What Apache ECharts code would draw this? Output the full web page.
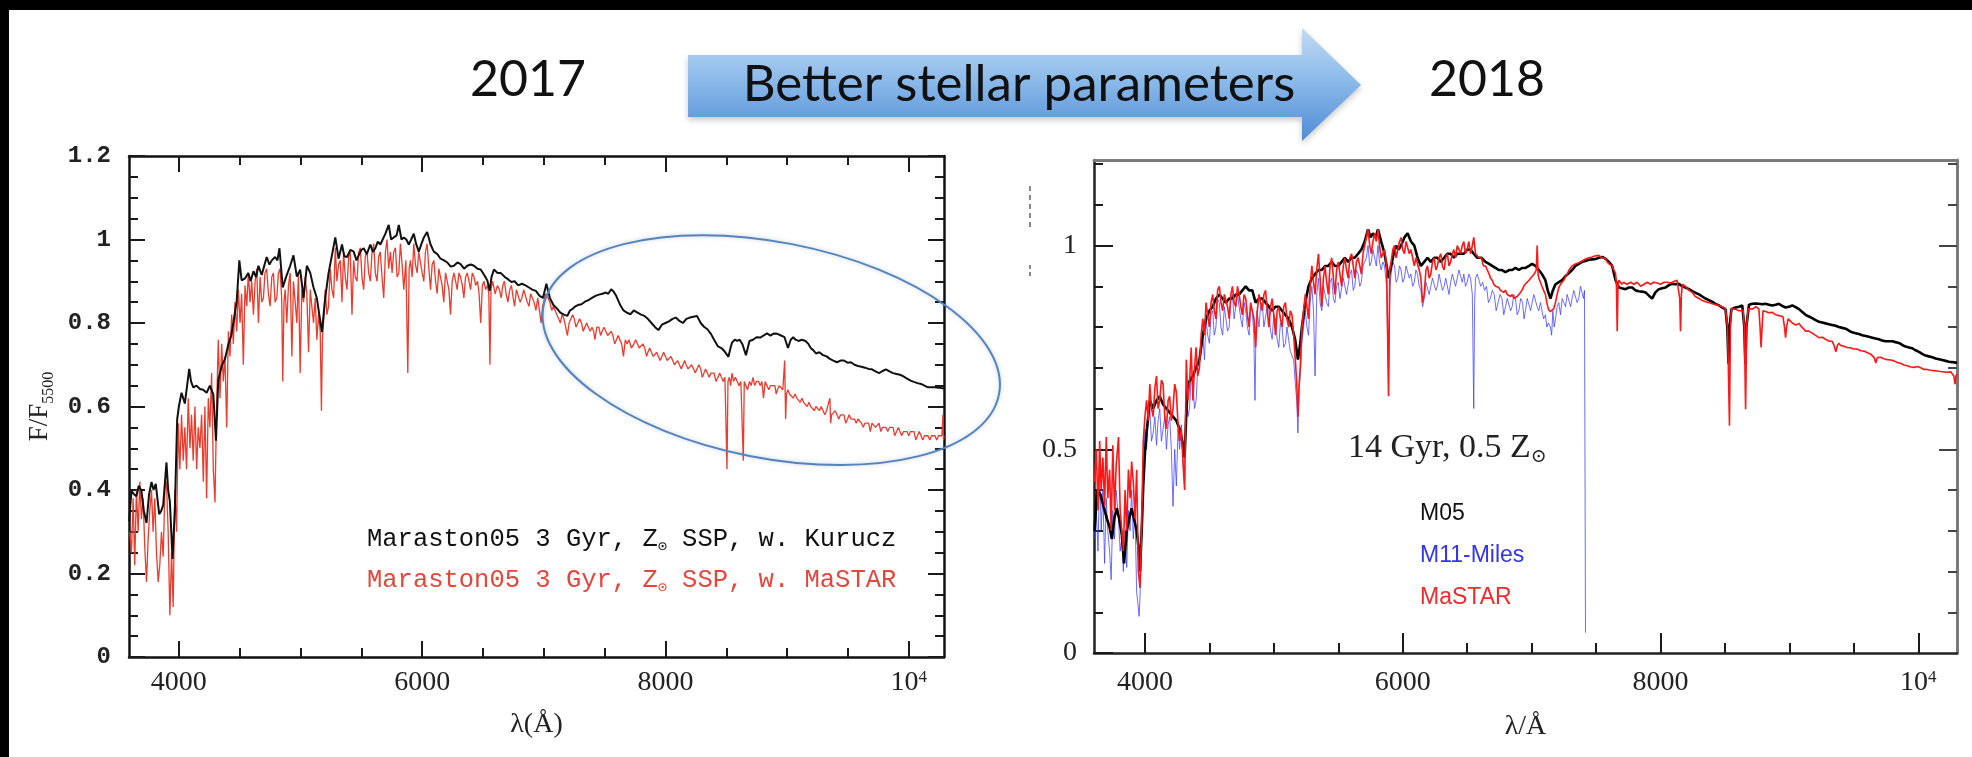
<!DOCTYPE html>
<html>
<head>
<meta charset="utf-8">
<script src="https://cdn.jsdelivr.net/npm/echarts@6/dist/echarts.min.js"></script>
<style>
  html, body { margin: 0; padding: 0; background: #fff; }
  #chart { width: 1972px; height: 757px; }
</style>
</head>
<body>
<div id="chart"></div>
<script>
// ---------- 2017 panel: Maraston05 3 Gyr, solar metallicity SSP ----------
// [wavelength (Å), F/F5500]
const kurucz2017 = [[3591,0.325],[3610,0.398],[3630,0.39],[3651,0.385],[3670,0.41],[3692,0.398],[3712,0.35],[3734,0.321],[3755,0.39],[3775,0.419],[3792,0.40],[3810,0.415],[3838,0.342],[3855,0.35],[3871,0.364],[3898,0.466],[3912,0.40],[3926,0.372],[3948,0.235],[3967,0.355],[3986,0.569],[4000,0.60],[4022,0.633],[4049,0.607],[4085,0.690],[4100,0.66],[4118,0.646],[4145,0.65],[4173,0.642],[4200,0.64],[4228,0.633],[4255,0.650],[4283,0.629],[4305,0.518],[4324,0.663],[4352,0.697],[4379,0.714],[4407,0.749],[4430,0.77],[4448,0.800],[4475,0.851],[4497,0.950],[4516,0.902],[4544,0.907],[4571,0.920],[4590,0.90],[4613,0.924],[4635,0.91],[4654,0.937],[4681,0.915],[4700,0.935],[4722,0.958],[4745,0.94],[4764,0.950],[4791,0.958],[4810,0.95],[4827,0.979],[4854,0.885],[4882,0.911],[4915,0.937],[4942,0.962],[4970,0.911],[4997,0.928],[5025,0.860],[5052,0.937],[5080,0.920],[5107,0.885],[5134,0.860],[5156,0.817],[5176,0.778],[5203,0.860],[5231,0.920],[5258,0.962],[5286,1.005],[5313,0.954],[5341,0.988],[5360,0.96],[5382,0.958],[5410,0.975],[5437,0.971],[5460,0.95],[5478,0.962],[5500,0.975],[5519,0.979],[5545,0.965],[5574,0.988],[5595,0.97],[5615,0.979],[5635,0.995],[5656,0.988],[5698,1.014],[5725,1.035],[5745,1.0],[5766,1.005],[5790,1.01],[5808,1.035],[5830,1.0],[5849,1.005],[5870,1.0],[5890,0.988],[5910,1.0],[5931,1.014],[5950,0.99],[5972,0.971],[5995,0.99],[6014,1.005],[6041,1.018],[6069,0.988],[6096,0.971],[6125,0.965],[6151,0.954],[6180,0.95],[6206,0.945],[6235,0.935],[6261,0.937],[6290,0.945],[6316,0.941],[6345,0.93],[6371,0.937],[6400,0.94],[6426,0.937],[6455,0.93],[6481,0.928],[6510,0.915],[6536,0.902],[6555,0.877],[6570,0.91],[6590,0.928],[6620,0.92],[6645,0.920],[6680,0.91],[6705,0.905],[6734,0.898],[6760,0.9],[6790,0.89],[6820,0.894],[6850,0.89],[6878,0.885],[6905,0.88],[6935,0.877],[6965,0.865],[6993,0.860],[7010,0.88],[7021,0.894],[7050,0.86],[7079,0.843],[7107,0.835],[7136,0.825],[7165,0.82],[7194,0.817],[7215,0.83],[7237,0.834],[7260,0.84],[7280,0.843],[7310,0.845],[7338,0.851],[7367,0.855],[7396,0.860],[7425,0.865],[7453,0.868],[7482,0.87],[7511,0.873],[7530,0.87],[7554,0.881],[7575,0.875],[7597,0.864],[7625,0.845],[7655,0.830],[7683,0.825],[7712,0.821],[7740,0.83],[7770,0.825],[7800,0.82],[7827,0.817],[7855,0.81],[7885,0.800],[7915,0.79],[7942,0.783],[7971,0.796],[8000,0.80],[8029,0.804],[8058,0.81],[8086,0.813],[8115,0.805],[8144,0.800],[8172,0.81],[8201,0.813],[8230,0.815],[8259,0.817],[8290,0.80],[8317,0.791],[8345,0.785],[8374,0.774],[8400,0.76],[8432,0.744],[8460,0.74],[8489,0.731],[8518,0.719],[8535,0.74],[8547,0.753],[8570,0.76],[8590,0.757],[8610,0.76],[8633,0.749],[8662,0.723],[8691,0.757],[8720,0.76],[8748,0.766],[8780,0.765],[8806,0.770],[8835,0.775],[8863,0.770],[8892,0.775],[8921,0.774],[8950,0.77],[8979,0.766],[9007,0.740],[9030,0.76],[9050,0.766],[9070,0.76],[9094,0.757],[9122,0.76],[9151,0.757],[9175,0.75],[9194,0.740],[9215,0.735],[9237,0.727],[9265,0.73],[9295,0.723],[9325,0.72],[9352,0.714],[9380,0.71],[9410,0.706],[9440,0.71],[9468,0.710],[9497,0.705],[9525,0.706],[9554,0.70],[9583,0.697],[9612,0.695],[9640,0.693],[9670,0.69],[9698,0.689],[9727,0.684],[9756,0.680],[9785,0.685],[9813,0.689],[9842,0.684],[9871,0.680],[9900,0.678],[9928,0.676],[9957,0.672],[9986,0.667],[10015,0.662],[10043,0.659],[10072,0.656],[10101,0.654],[10130,0.65],[10158,0.646],[10187,0.646],[10216,0.646],[10245,0.645],[10273,0.644],[10290,0.644]];

const mastar2017 = [[3596,0.30],[3610,0.25],[3624,0.38],[3637,0.22],[3651,0.40],[3665,0.30],[3679,0.42],[3692,0.33],[3706,0.38],[3720,0.26],[3734,0.18],[3747,0.28],[3761,0.35],[3775,0.40],[3788,0.30],[3802,0.38],[3816,0.25],[3830,0.18],[3843,0.22],[3857,0.30],[3871,0.24],[3885,0.40],[3898,0.42],[3912,0.30],[3926,0.10],[3940,0.25],[3953,0.12],[3967,0.40],[3981,0.30],[3995,0.56],[4008,0.45],[4022,0.58],[4036,0.47],[4049,0.55],[4063,0.45],[4077,0.62],[4091,0.50],[4104,0.58],[4118,0.47],[4132,0.60],[4146,0.45],[4159,0.55],[4173,0.50],[4187,0.58],[4201,0.42],[4214,0.60],[4228,0.38],[4242,0.62],[4255,0.55],[4269,0.68],[4283,0.45],[4297,0.37],[4310,0.60],[4324,0.76],[4338,0.62],[4352,0.75],[4365,0.66],[4379,0.72],[4393,0.55],[4407,0.78],[4420,0.72],[4434,0.82],[4448,0.75],[4461,0.85],[4475,0.78],[4489,0.88],[4503,0.80],[4516,0.87],[4530,0.70],[4544,0.89],[4558,0.84],[4571,0.92],[4585,0.85],[4599,0.90],[4613,0.82],[4627,0.90],[4640,0.93],[4654,0.80],[4668,0.91],[4681,0.85],[4695,0.86],[4708,0.92],[4722,0.93],[4736,0.87],[4750,0.84],[4764,0.91],[4777,0.92],[4791,0.85],[4805,0.86],[4818,0.92],[4832,0.93],[4845,0.86],[4854,0.66],[4864,0.85],[4874,0.88],[4887,0.80],[4901,0.89],[4915,0.92],[4929,0.72],[4942,0.90],[4956,0.85],[4970,0.80],[4983,0.92],[4997,0.68],[5011,0.88],[5025,0.85],[5038,0.91],[5052,0.87],[5066,0.73],[5080,0.88],[5093,0.84],[5107,0.80],[5121,0.86],[5134,0.76],[5148,0.82],[5162,0.78],[5172,0.59],[5180,0.76],[5189,0.80],[5203,0.88],[5217,0.82],[5230,0.84],[5244,0.93],[5258,0.88],[5272,0.86],[5286,0.98],[5299,0.90],[5313,0.94],[5327,0.95],[5341,0.85],[5354,0.97],[5368,0.91],[5382,0.88],[5396,0.96],[5409,0.97],[5423,0.82],[5437,0.95],[5450,0.91],[5464,0.90],[5478,0.97],[5492,0.98],[5505,0.91],[5519,0.88],[5533,0.96],[5547,0.97],[5560,0.92],[5574,0.90],[5588,0.97],[5602,0.99],[5615,0.92],[5629,0.90],[5643,0.96],[5656,0.97],[5670,0.91],[5684,0.86],[5698,0.97],[5711,1.00],[5725,0.93],[5739,0.97],[5753,0.92],[5766,0.97],[5780,0.98],[5794,0.91],[5808,0.92],[5821,0.99],[5835,0.94],[5849,0.88],[5866,0.95],[5882,0.68],[5893,0.93],[5904,0.95],[5918,0.91],[5931,0.99],[5945,0.94],[5959,0.92],[5972,0.97],[5986,0.97],[6000,0.92],[6014,0.90],[6027,0.97],[6041,0.99],[6055,0.93],[6069,0.88],[6082,0.94],[6096,0.95],[6110,0.90],[6123,0.87],[6137,0.93],[6151,0.93],[6164,0.89],[6178,0.85],[6192,0.92],[6206,0.92],[6220,0.88],[6233,0.82],[6247,0.90],[6261,0.92],[6275,0.90],[6288,0.88],[6302,0.92],[6316,0.91],[6330,0.89],[6343,0.86],[6357,0.91],[6371,0.92],[6385,0.90],[6398,0.88],[6412,0.92],[6426,0.91],[6440,0.89],[6455,0.90],[6468,0.87],[6481,0.80],[6495,0.89],[6508,0.90],[6522,0.88],[6536,0.89],[6548,0.87],[6557,0.70],[6566,0.88],[6580,0.90],[6600,0.87],[6619,0.89],[6635,0.88],[6650,0.86],[6663,0.89],[6676,0.90],[6690,0.87],[6705,0.85],[6720,0.88],[6734,0.89],[6748,0.86],[6760,0.84],[6775,0.88],[6790,0.88],[6805,0.85],[6820,0.86],[6835,0.88],[6850,0.88],[6864,0.85],[6878,0.84],[6892,0.87],[6905,0.87],[6920,0.85],[6935,0.83],[6950,0.86],[6964,0.86],[6978,0.80],[6990,0.84],[7000,0.85],[7010,0.87],[7021,0.87],[7035,0.86],[7050,0.85],[7065,0.83],[7079,0.84],[7093,0.83],[7107,0.82],[7122,0.81],[7136,0.80],[7150,0.82],[7165,0.81],[7180,0.79],[7194,0.77],[7208,0.80],[7223,0.80],[7237,0.82],[7250,0.81],[7265,0.79],[7280,0.79],[7295,0.81],[7310,0.80],[7324,0.78],[7338,0.78],[7352,0.80],[7367,0.80],[7381,0.78],[7396,0.79],[7410,0.78],[7420,0.76],[7436,0.79],[7453,0.79],[7467,0.77],[7480,0.78],[7495,0.79],[7511,0.79],[7525,0.77],[7540,0.77],[7554,0.78],[7568,0.77],[7583,0.75],[7597,0.76],[7611,0.77],[7626,0.77],[7640,0.75],[7655,0.72],[7670,0.76],[7685,0.75],[7700,0.76],[7720,0.74],[7741,0.75],[7755,0.76],[7770,0.76],[7785,0.74],[7799,0.74],[7815,0.75],[7830,0.74],[7845,0.72],[7856,0.73],[7870,0.74],[7885,0.74],[7900,0.72],[7914,0.72],[7928,0.73],[7942,0.73],[7956,0.71],[7971,0.72],[7985,0.73],[8000,0.72],[8015,0.71],[8029,0.71],[8045,0.72],[8060,0.71],[8073,0.70],[8086,0.70],[8100,0.71],[8115,0.71],[8130,0.69],[8144,0.70],[8158,0.71],[8170,0.70],[8186,0.69],[8201,0.69],[8215,0.70],[8230,0.70],[8245,0.68],[8259,0.69],[8275,0.70],[8290,0.69],[8303,0.67],[8317,0.68],[8330,0.69],[8345,0.69],[8360,0.67],[8374,0.68],[8388,0.68],[8400,0.68],[8415,0.66],[8432,0.67],[8446,0.68],[8460,0.68],[8475,0.66],[8489,0.67],[8500,0.67],[8506,0.45],[8514,0.66],[8525,0.67],[8536,0.65],[8547,0.68],[8560,0.66],[8575,0.67],[8590,0.67],[8605,0.65],[8620,0.66],[8632,0.66],[8640,0.47],[8648,0.66],[8660,0.66],[8675,0.64],[8691,0.66],[8705,0.65],[8720,0.67],[8734,0.65],[8748,0.66],[8765,0.66],[8780,0.65],[8793,0.66],[8806,0.62],[8820,0.66],[8835,0.65],[8850,0.64],[8863,0.65],[8880,0.65],[8900,0.65],[8910,0.63],[8921,0.64],[8935,0.65],[8950,0.65],[8965,0.64],[8980,0.71],[8988,0.57],[8995,0.63],[9007,0.64],[9020,0.63],[9036,0.63],[9050,0.62],[9065,0.63],[9080,0.62],[9094,0.62],[9108,0.61],[9122,0.62],[9136,0.61],[9151,0.61],[9165,0.60],[9180,0.61],[9194,0.60],[9209,0.60],[9223,0.59],[9237,0.60],[9250,0.60],[9266,0.59],[9280,0.60],[9295,0.60],[9310,0.58],[9324,0.59],[9340,0.59],[9352,0.62],[9358,0.56],[9366,0.58],[9380,0.58],[9395,0.59],[9410,0.58],[9425,0.57],[9440,0.58],[9455,0.58],[9468,0.58],[9482,0.56],[9497,0.57],[9510,0.58],[9525,0.57],[9540,0.57],[9554,0.57],[9568,0.56],[9583,0.57],[9597,0.57],[9612,0.56],[9626,0.55],[9640,0.56],[9655,0.56],[9670,0.56],[9684,0.54],[9698,0.56],[9712,0.56],[9727,0.55],[9741,0.55],[9756,0.56],[9770,0.54],[9785,0.55],[9799,0.55],[9813,0.55],[9828,0.54],[9842,0.55],[9857,0.55],[9871,0.55],[9885,0.53],[9900,0.54],[9914,0.55],[9928,0.54],[9942,0.53],[9957,0.54],[9971,0.54],[9986,0.54],[10000,0.53],[10015,0.54],[10029,0.54],[10043,0.54],[10058,0.52],[10072,0.53],[10087,0.54],[10101,0.54],[10115,0.52],[10130,0.53],[10144,0.53],[10158,0.53],[10173,0.52],[10187,0.53],[10201,0.53],[10216,0.53],[10230,0.52],[10245,0.53],[10259,0.53],[10273,0.53],[10281,0.58],[10286,0.52],[10290,0.53]];

// ---------- 2018 panel: 14 Gyr, 0.5 solar metallicity ----------
const m05 = [[3610,0.30],[3628,0.40],[3654,0.39],[3679,0.36],[3705,0.33],[3725,0.31],[3744,0.28],[3762,0.33],[3782,0.355],[3800,0.33],[3821,0.29],[3838,0.22],[3859,0.30],[3878,0.33],[3897,0.355],[3915,0.33],[3936,0.30],[3950,0.26],[3962,0.20],[3975,0.30],[3987,0.41],[4000,0.49],[4013,0.54],[4038,0.62],[4064,0.60],[4090,0.62],[4115,0.63],[4141,0.61],[4167,0.60],[4192,0.59],[4218,0.58],[4244,0.57],[4269,0.55],[4290,0.52],[4308,0.48],[4320,0.58],[4333,0.66],[4352,0.67],[4372,0.68],[4397,0.70],[4423,0.72],[4449,0.78],[4474,0.82],[4500,0.84],[4526,0.85],[4551,0.87],[4577,0.88],[4603,0.87],[4628,0.86],[4654,0.87],[4679,0.87],[4705,0.88],[4731,0.88],[4756,0.89],[4782,0.90],[4808,0.89],[4833,0.89],[4859,0.86],[4885,0.87],[4910,0.87],[4936,0.86],[4962,0.85],[4987,0.84],[5013,0.85],[5038,0.85],[5064,0.84],[5090,0.83],[5115,0.82],[5141,0.80],[5165,0.77],[5187,0.72],[5205,0.76],[5218,0.80],[5244,0.86],[5269,0.90],[5295,0.92],[5320,0.93],[5346,0.94],[5372,0.94],[5397,0.95],[5423,0.95],[5449,0.96],[5474,0.95],[5500,0.95],[5526,0.96],[5551,0.97],[5577,0.96],[5603,0.97],[5628,0.97],[5654,0.98],[5679,0.99],[5705,1.01],[5731,1.04],[5750,1.02],[5769,1.03],[5790,1.02],[5808,1.04],[5833,1.01],[5859,0.98],[5875,0.95],[5890,0.92],[5910,0.95],[5930,0.98],[5949,1.00],[5968,0.99],[5987,1.00],[6013,1.02],[6038,1.03],[6064,1.01],[6090,1.00],[6115,0.97],[6141,0.95],[6167,0.96],[6192,0.97],[6218,0.96],[6244,0.97],[6269,0.97],[6295,0.96],[6321,0.97],[6346,0.98],[6372,0.98],[6397,0.97],[6423,0.98],[6449,0.98],[6474,0.98],[6500,0.99],[6526,0.99],[6551,0.98],[6577,0.97],[6610,0.97],[6642,0.96],[6670,0.955],[6694,0.95],[6720,0.945],[6745,0.94],[6770,0.94],[6797,0.935],[6825,0.94],[6849,0.94],[6875,0.945],[6901,0.94],[6925,0.945],[6952,0.945],[6980,0.95],[7004,0.955],[7030,0.95],[7056,0.94],[7080,0.93],[7107,0.915],[7125,0.89],[7146,0.87],[7165,0.89],[7185,0.905],[7211,0.91],[7237,0.915],[7263,0.925],[7288,0.932],[7314,0.94],[7340,0.95],[7366,0.955],[7392,0.96],[7418,0.962],[7444,0.965],[7470,0.966],[7496,0.967],[7521,0.97],[7547,0.972],[7573,0.968],[7599,0.96],[7625,0.95],[7651,0.915],[7677,0.897],[7700,0.895],[7728,0.893],[7755,0.897],[7780,0.897],[7806,0.89],[7832,0.888],[7858,0.887],[7884,0.885],[7910,0.877],[7935,0.87],[7960,0.885],[7987,0.893],[8013,0.895],[8039,0.897],[8065,0.903],[8091,0.906],[8115,0.905],[8142,0.906],[8168,0.90],[8194,0.897],[8220,0.893],[8246,0.888],[8272,0.884],[8298,0.88],[8324,0.875],[8349,0.87],[8375,0.866],[8401,0.862],[8427,0.857],[8453,0.853],[8478,0.848],[8504,0.844],[8518,0.80],[8527,0.71],[8536,0.80],[8550,0.844],[8582,0.848],[8610,0.85],[8634,0.853],[8650,0.80],[8658,0.71],[8666,0.80],[8686,0.855],[8712,0.857],[8738,0.858],[8763,0.857],[8789,0.856],[8815,0.857],[8841,0.855],[8867,0.853],[8893,0.855],[8918,0.857],[8944,0.852],[8970,0.848],[8996,0.85],[9022,0.853],[9048,0.849],[9074,0.844],[9100,0.837],[9125,0.83],[9151,0.826],[9177,0.822],[9203,0.817],[9229,0.813],[9255,0.811],[9280,0.809],[9306,0.807],[9332,0.805],[9358,0.803],[9384,0.80],[9410,0.798],[9436,0.796],[9462,0.791],[9487,0.787],[9513,0.785],[9539,0.783],[9565,0.78],[9591,0.778],[9617,0.776],[9643,0.774],[9668,0.772],[9694,0.77],[9720,0.767],[9746,0.765],[9772,0.765],[9798,0.765],[9823,0.763],[9849,0.761],[9875,0.756],[9901,0.752],[9927,0.75],[9953,0.748],[9979,0.743],[10005,0.739],[10030,0.734],[10056,0.73],[10082,0.728],[10108,0.726],[10134,0.723],[10160,0.721],[10186,0.719],[10212,0.717],[10238,0.715],[10263,0.714],[10300,0.712]];

const m11Miles = [[3610,0.28],[3623,0.35],[3636,0.25],[3649,0.45],[3661,0.30],[3674,0.40],[3687,0.22],[3700,0.38],[3712,0.30],[3726,0.25],[3738,0.18],[3751,0.35],[3764,0.28],[3777,0.40],[3795,0.33],[3808,0.25],[3821,0.28],[3833,0.20],[3846,0.30],[3859,0.21],[3872,0.35],[3885,0.30],[3897,0.40],[3910,0.28],[3923,0.35],[3936,0.15],[3949,0.11],[3955,0.09],[3962,0.14],[3974,0.28],[3987,0.45],[4000,0.55],[4013,0.50],[4026,0.58],[4038,0.60],[4051,0.52],[4064,0.54],[4077,0.58],[4090,0.51],[4102,0.57],[4115,0.60],[4128,0.52],[4141,0.55],[4154,0.58],[4167,0.50],[4180,0.56],[4192,0.58],[4205,0.50],[4218,0.36],[4231,0.50],[4244,0.41],[4257,0.55],[4269,0.50],[4282,0.56],[4295,0.47],[4308,0.42],[4321,0.65],[4334,0.58],[4346,0.60],[4359,0.68],[4372,0.66],[4385,0.60],[4397,0.62],[4410,0.70],[4423,0.70],[4436,0.74],[4449,0.78],[4462,0.72],[4474,0.82],[4487,0.78],[4500,0.76],[4513,0.83],[4526,0.84],[4538,0.78],[4551,0.80],[4564,0.87],[4577,0.86],[4590,0.80],[4603,0.78],[4616,0.85],[4628,0.85],[4641,0.79],[4654,0.80],[4667,0.87],[4679,0.88],[4692,0.82],[4705,0.82],[4718,0.88],[4731,0.88],[4744,0.82],[4756,0.80],[4769,0.86],[4782,0.84],[4795,0.80],[4808,0.78],[4820,0.85],[4833,0.84],[4845,0.78],[4854,0.62],[4862,0.80],[4870,0.84],[4885,0.80],[4897,0.85],[4910,0.86],[4923,0.80],[4936,0.80],[4949,0.85],[4962,0.84],[4975,0.79],[4987,0.77],[5000,0.83],[5013,0.82],[5026,0.77],[5038,0.75],[5051,0.81],[5064,0.80],[5077,0.75],[5090,0.76],[5102,0.80],[5115,0.80],[5128,0.74],[5141,0.74],[5154,0.72],[5167,0.66],[5178,0.62],[5187,0.54],[5196,0.64],[5205,0.68],[5218,0.76],[5231,0.80],[5244,0.84],[5257,0.80],[5269,0.78],[5282,0.86],[5295,0.90],[5308,0.84],[5320,0.68],[5333,0.88],[5346,0.92],[5359,0.86],[5372,0.84],[5385,0.90],[5397,0.90],[5410,0.86],[5423,0.85],[5436,0.91],[5449,0.92],[5462,0.87],[5474,0.86],[5487,0.90],[5500,0.91],[5513,0.87],[5526,0.87],[5539,0.92],[5551,0.92],[5564,0.88],[5577,0.88],[5590,0.93],[5603,0.94],[5616,0.89],[5628,0.90],[5641,0.94],[5654,0.93],[5667,0.90],[5679,0.91],[5692,0.95],[5705,0.95],[5718,0.97],[5731,1.00],[5744,0.95],[5756,0.96],[5769,0.99],[5782,0.99],[5795,0.95],[5808,1.00],[5820,0.96],[5833,0.94],[5846,0.96],[5859,0.95],[5875,0.90],[5890,0.66],[5900,0.90],[5910,0.93],[5923,0.96],[5936,0.95],[5949,0.91],[5962,0.92],[5975,0.95],[5987,0.94],[6000,0.91],[6013,0.92],[6026,0.95],[6038,0.95],[6051,0.92],[6064,0.93],[6077,0.90],[6090,0.91],[6102,0.94],[6115,0.93],[6128,0.90],[6141,0.89],[6154,0.85],[6167,0.87],[6180,0.91],[6192,0.91],[6205,0.88],[6218,0.90],[6231,0.92],[6244,0.92],[6257,0.89],[6269,0.90],[6282,0.93],[6295,0.93],[6308,0.89],[6321,0.90],[6334,0.92],[6346,0.92],[6359,0.88],[6372,0.91],[6385,0.93],[6397,0.93],[6410,0.90],[6423,0.92],[6436,0.94],[6449,0.94],[6462,0.91],[6474,0.93],[6487,0.90],[6500,0.91],[6513,0.93],[6526,0.92],[6540,0.88],[6551,0.60],[6558,0.86],[6565,0.92],[6578,0.93],[6590,0.93],[6605,0.90],[6620,0.91],[6635,0.89],[6650,0.90],[6665,0.86],[6680,0.87],[6695,0.89],[6710,0.88],[6725,0.84],[6740,0.86],[6755,0.88],[6770,0.87],[6784,0.83],[6797,0.85],[6811,0.87],[6825,0.87],[6837,0.84],[6849,0.85],[6862,0.88],[6875,0.87],[6888,0.83],[6901,0.84],[6915,0.87],[6930,0.86],[6941,0.82],[6952,0.84],[6966,0.87],[6980,0.87],[6992,0.84],[7004,0.86],[7017,0.88],[7030,0.88],[7043,0.85],[7056,0.84],[7068,0.86],[7080,0.86],[7093,0.82],[7107,0.83],[7118,0.80],[7130,0.81],[7146,0.80],[7155,0.78],[7165,0.84],[7175,0.80],[7185,0.82],[7198,0.85],[7211,0.86],[7224,0.83],[7237,0.87],[7250,0.86],[7263,0.85],[7276,0.88],[7290,0.88],[7302,0.85],[7314,0.87],[7327,0.89],[7340,0.89],[7353,0.86],[7366,0.87],[7379,0.90],[7392,0.90],[7402,0.87],[7410,0.89],[7418,0.05]];

const mastar2018 = [[3610,0.42],[3623,0.50],[3636,0.35],[3649,0.52],[3661,0.40],[3674,0.48],[3687,0.36],[3700,0.53],[3712,0.38],[3726,0.45],[3738,0.30],[3751,0.51],[3764,0.35],[3777,0.46],[3795,0.53],[3808,0.35],[3821,0.30],[3833,0.25],[3846,0.40],[3859,0.30],[3872,0.45],[3885,0.38],[3897,0.47],[3910,0.42],[3923,0.33],[3936,0.45],[3949,0.20],[3962,0.16],[3974,0.30],[3987,0.52],[4000,0.58],[4013,0.62],[4026,0.57],[4038,0.66],[4051,0.60],[4064,0.58],[4077,0.65],[4090,0.68],[4102,0.60],[4115,0.62],[4128,0.67],[4141,0.66],[4154,0.58],[4167,0.55],[4180,0.62],[4192,0.63],[4205,0.57],[4218,0.60],[4231,0.66],[4244,0.64],[4257,0.56],[4269,0.52],[4282,0.55],[4295,0.47],[4308,0.40],[4321,0.72],[4334,0.62],[4346,0.66],[4359,0.75],[4372,0.62],[4385,0.70],[4397,0.75],[4410,0.68],[4423,0.70],[4436,0.78],[4449,0.82],[4462,0.78],[4474,0.86],[4487,0.83],[4500,0.80],[4513,0.86],[4526,0.88],[4538,0.84],[4551,0.82],[4564,0.89],[4577,0.90],[4590,0.86],[4603,0.84],[4616,0.88],[4628,0.88],[4641,0.85],[4654,0.82],[4667,0.88],[4679,0.90],[4692,0.86],[4705,0.85],[4718,0.90],[4731,0.88],[4744,0.85],[4756,0.83],[4769,0.88],[4782,0.87],[4795,0.83],[4808,0.80],[4820,0.86],[4833,0.86],[4846,0.82],[4859,0.75],[4872,0.84],[4885,0.88],[4897,0.86],[4910,0.84],[4923,0.88],[4936,0.89],[4949,0.84],[4962,0.80],[4975,0.85],[4987,0.87],[5000,0.83],[5013,0.78],[5026,0.84],[5038,0.85],[5051,0.82],[5064,0.80],[5077,0.85],[5090,0.86],[5102,0.82],[5115,0.80],[5128,0.84],[5141,0.83],[5154,0.78],[5167,0.72],[5178,0.66],[5187,0.58],[5196,0.66],[5205,0.70],[5218,0.80],[5231,0.84],[5244,0.88],[5257,0.85],[5269,0.82],[5282,0.90],[5295,0.95],[5308,0.91],[5320,0.88],[5333,0.94],[5346,0.98],[5359,0.92],[5372,0.85],[5385,0.92],[5397,0.95],[5410,0.91],[5423,0.88],[5436,0.95],[5449,0.97],[5462,0.92],[5474,0.88],[5487,0.94],[5500,0.96],[5513,0.93],[5526,0.90],[5539,0.95],[5551,0.97],[5564,0.94],[5577,0.92],[5590,0.97],[5603,0.98],[5616,0.95],[5628,0.92],[5641,0.96],[5654,0.97],[5667,0.95],[5679,0.93],[5692,0.98],[5705,1.00],[5718,1.02],[5731,1.04],[5744,1.00],[5756,0.98],[5769,1.01],[5782,1.03],[5795,1.01],[5808,1.04],[5820,1.00],[5833,0.97],[5846,0.98],[5859,0.99],[5875,0.95],[5890,0.63],[5900,0.94],[5910,0.96],[5923,0.99],[5936,1.00],[5949,0.97],[5962,0.97],[5975,1.01],[5987,1.02],[6000,0.99],[6013,0.98],[6026,1.01],[6038,1.01],[6051,0.98],[6064,0.99],[6077,0.97],[6090,0.95],[6102,0.97],[6115,0.97],[6128,0.94],[6141,0.92],[6154,0.86],[6167,0.88],[6180,0.94],[6192,0.95],[6205,0.92],[6218,0.93],[6231,0.96],[6244,0.97],[6257,0.94],[6269,0.95],[6282,0.97],[6295,0.98],[6308,0.95],[6321,0.94],[6334,0.97],[6346,0.98],[6359,0.95],[6372,0.96],[6385,0.98],[6397,0.99],[6410,0.97],[6423,1.00],[6436,0.99],[6449,0.98],[6462,1.00],[6474,1.01],[6487,0.98],[6500,0.99],[6513,1.01],[6526,0.98],[6540,1.00],[6551,1.02],[6565,0.98],[6577,0.98],[6590,0.97],[6610,0.97],[6626,0.95],[6642,0.95],[6656,0.94],[6670,0.93],[6682,0.92],[6694,0.915],[6707,0.905],[6720,0.90],[6732,0.90],[6745,0.897],[6758,0.89],[6770,0.89],[6784,0.885],[6797,0.89],[6811,0.88],[6825,0.88],[6837,0.875],[6849,0.88],[6862,0.87],[6875,0.87],[6888,0.875],[6901,0.875],[6913,0.885],[6925,0.89],[6939,0.90],[6952,0.906],[6966,0.91],[6980,0.915],[6992,0.92],[7004,0.923],[7020,0.93],[7036,0.94],[7043,1.00],[7050,0.93],[7056,0.92],[7068,0.91],[7080,0.90],[7093,0.89],[7107,0.88],[7118,0.86],[7130,0.844],[7144,0.838],[7159,0.835],[7172,0.845],[7185,0.86],[7198,0.88],[7211,0.897],[7224,0.905],[7237,0.91],[7250,0.915],[7263,0.923],[7276,0.93],[7290,0.94],[7302,0.945],[7314,0.95],[7327,0.952],[7340,0.955],[7353,0.957],[7366,0.958],[7379,0.96],[7392,0.962],[7405,0.963],[7418,0.967],[7431,0.968],[7444,0.97],[7457,0.97],[7470,0.972],[7483,0.975],[7496,0.975],[7509,0.974],[7521,0.976],[7534,0.972],[7547,0.97],[7560,0.97],[7573,0.968],[7586,0.96],[7600,0.955],[7612,0.952],[7625,0.95],[7638,0.94],[7651,0.932],[7658,0.90],[7664,0.79],[7670,0.90],[7677,0.915],[7689,0.91],[7700,0.905],[7714,0.91],[7728,0.91],[7741,0.905],[7755,0.905],[7767,0.91],[7780,0.91],[7793,0.905],[7806,0.905],[7819,0.91],[7832,0.91],[7846,0.90],[7860,0.90],[7872,0.905],[7884,0.905],[7897,0.91],[7910,0.91],[7922,0.905],[7935,0.906],[7948,0.91],[7960,0.91],[7974,0.908],[7987,0.91],[8000,0.905],[8013,0.905],[8026,0.91],[8039,0.906],[8052,0.91],[8065,0.91],[8078,0.908],[8091,0.91],[8103,0.912],[8115,0.912],[8128,0.915],[8142,0.915],[8149,0.87],[8155,0.79],[8162,0.88],[8170,0.905],[8182,0.902],[8194,0.90],[8207,0.895],[8220,0.89],[8233,0.887],[8246,0.885],[8258,0.88],[8270,0.875],[8284,0.872],[8298,0.87],[8311,0.867],[8325,0.865],[8337,0.864],[8349,0.862],[8362,0.86],[8375,0.86],[8388,0.858],[8401,0.857],[8414,0.856],[8427,0.855],[8440,0.854],[8453,0.853],[8466,0.852],[8480,0.85],[8492,0.847],[8504,0.844],[8514,0.84],[8520,0.80],[8535,0.558],[8542,0.80],[8550,0.845],[8565,0.845],[8580,0.844],[8594,0.842],[8608,0.84],[8624,0.84],[8640,0.842],[8650,0.80],[8660,0.598],[8668,0.80],[8680,0.845],[8696,0.845],[8712,0.844],[8726,0.847],[8740,0.85],[8752,0.846],[8763,0.844],[8772,0.80],[8780,0.75],[8788,0.80],[8795,0.84],[8805,0.84],[8815,0.838],[8828,0.836],[8840,0.835],[8853,0.836],[8867,0.836],[8880,0.833],[8893,0.83],[8905,0.829],[8918,0.828],[8934,0.827],[8950,0.825],[8962,0.80],[8970,0.774],[8978,0.80],[8990,0.82],[9006,0.815],[9022,0.81],[9036,0.808],[9050,0.805],[9062,0.807],[9074,0.809],[9087,0.803],[9100,0.80],[9112,0.795],[9125,0.79],[9138,0.79],[9150,0.79],[9163,0.787],[9177,0.785],[9188,0.782],[9200,0.78],[9215,0.777],[9229,0.774],[9242,0.776],[9255,0.775],[9268,0.772],[9280,0.77],[9295,0.767],[9310,0.765],[9321,0.766],[9332,0.765],[9346,0.755],[9360,0.739],[9372,0.755],[9384,0.76],[9397,0.755],[9410,0.752],[9423,0.753],[9436,0.752],[9448,0.75],[9460,0.748],[9474,0.749],[9487,0.748],[9498,0.746],[9510,0.745],[9525,0.746],[9539,0.745],[9552,0.742],[9565,0.74],[9578,0.741],[9591,0.739],[9605,0.737],[9620,0.735],[9632,0.733],[9643,0.73],[9657,0.725],[9670,0.712],[9682,0.725],[9694,0.728],[9707,0.726],[9720,0.725],[9733,0.722],[9746,0.721],[9759,0.72],[9772,0.718],[9785,0.719],[9798,0.72],[9811,0.717],[9825,0.715],[9837,0.713],[9849,0.712],[9862,0.711],[9875,0.71],[9888,0.707],[9901,0.704],[9915,0.705],[9930,0.706],[9941,0.702],[9953,0.70],[9966,0.701],[9980,0.702],[9993,0.703],[10005,0.704],[10018,0.70],[10030,0.698],[10043,0.696],[10056,0.695],[10068,0.696],[10080,0.697],[10094,0.694],[10108,0.693],[10121,0.693],[10135,0.694],[10148,0.692],[10160,0.69],[10172,0.691],[10185,0.692],[10198,0.69],[10212,0.688],[10226,0.689],[10240,0.69],[10252,0.69],[10263,0.69],[10275,0.68],[10285,0.66],[10292,0.68],[10300,0.685]];

// ---------- axis ticks and labels ----------
const xMajorTicks = [4000, 6000, 8000, 10000];
const xMinorTicks = [4500, 5000, 5500, 6500, 7000, 7500, 8500, 9000, 9500];
const leftYMajor = [0, 0.2, 0.4, 0.6, 0.8, 1, 1.2];
const leftYMinor = [0.05, 0.1, 0.15, 0.25, 0.3, 0.35, 0.45, 0.5, 0.55, 0.65, 0.7, 0.75, 0.85, 0.9, 0.95, 1.05, 1.1, 1.15];
const rightYMajor = [0, 0.5, 1];
const rightYMinor = [0.1, 0.2, 0.3, 0.4, 0.6, 0.7, 0.8, 0.9, 1.1, 1.2];

const leftRange = { xMin: 3590, xMax: 10290, yMin: 0, yMax: 1.2 };
const rightRange = { xMin: 3605, xMax: 10300, yMin: 0, yMax: 1.21 };

// series names (also the legend entries)
const NAME_KURUCZ = 'Maraston05 3 Gyr, Z⊙ SSP, w. Kurucz';
const NAME_MASTAR17 = 'Maraston05 3 Gyr, Z⊙ SSP, w. MaSTAR';
const NAME_M05 = 'M05';
const NAME_MILES = 'M11-Miles';
const NAME_MASTAR18 = 'MaSTAR';

// slide headings
const yearBefore = '2017';
const yearAfter = '2018';
const arrowCaption = 'Better stellar parameters';
const modelNote = '14 Gyr, 0.5 Z{sub|⊙}';

// highlighted region on the 2017 panel (data coordinates of the ellipse centre)
const ellipseCenter = [8870, 0.735];

const SERIF = "'Liberation Serif','DejaVu Serif',serif";
const MONO = "'Liberation Mono','DejaVu Sans Mono',monospace";
const SANS = "'Liberation Sans',Arial,sans-serif";
const SLIDE = "Lato,'Open Sans',sans-serif";

const supRich = { sup: { fontSize: 17, verticalAlign: 'top', lineHeight: 17, fontFamily: SERIF, color: '#222' } };
function xTickText(v) { return v === 10000 ? '10{sup|4}' : String(v); }

function axis(o) {
  const a = {
    type: 'value', gridIndex: o.grid, position: o.pos,
    min: o.range[0], max: o.range[1],
    axisLine: { show: !!o.line, onZero: false, lineStyle: { color: o.line || '#000', width: o.lineWidth || 2.5 } },
    axisTick: o.ticks ? { show: true, inside: true, length: o.len, customValues: o.ticks, lineStyle: { color: o.tickColor || '#1a1a1a', width: o.tickWidth || 2 } } : { show: false },
    axisLabel: { show: false },
    splitLine: { show: false },
    axisPointer: { show: false },
    silent: true
  };
  if (o.label) a.axisLabel = Object.assign({ show: true }, o.label);
  if (o.extra) Object.assign(a, o.extra);
  return a;
}

const LX = [leftRange.xMin, leftRange.xMax], LY = [leftRange.yMin, leftRange.yMax];
const RX = [rightRange.xMin, rightRange.xMax], RY = [rightRange.yMin, rightRange.yMax];

const xAxes = [
  // 2017 panel
  axis({ grid: 0, pos: 'bottom', range: LX, line: '#111', ticks: xMajorTicks, len: 16,
    label: { customValues: xMajorTicks, formatter: xTickText, margin: 12, fontFamily: SERIF, fontSize: 28, color: '#222', rich: supRich },
    extra: { name: 'λ(Å)', nameLocation: 'middle', nameGap: 54, nameTextStyle: { fontFamily: SERIF, fontSize: 28, color: '#222' } } }),
  axis({ grid: 0, pos: 'bottom', range: LX, ticks: xMinorTicks, len: 9 }),
  axis({ grid: 0, pos: 'top', range: LX, line: '#111', ticks: xMajorTicks, len: 16 }),
  axis({ grid: 0, pos: 'top', range: LX, ticks: xMinorTicks, len: 9 }),
  // 2018 panel
  axis({ grid: 1, pos: 'bottom', range: RX, line: '#222', lineWidth: 2.5, ticks: xMajorTicks, len: 20,
    label: { customValues: xMajorTicks, formatter: xTickText, margin: 16, fontFamily: SERIF, fontSize: 28, color: '#222', rich: supRich },
    extra: { name: 'λ/Å', nameLocation: 'middle', nameGap: 60, nameTextStyle: { fontFamily: SERIF, fontSize: 28, color: '#222' } } }),
  axis({ grid: 1, pos: 'bottom', range: RX, ticks: xMinorTicks, len: 10 }),
  axis({ grid: 1, pos: 'top', range: RX, line: '#7a7a7a', lineWidth: 3 })
];

const yAxes = [
  // 2017 panel
  axis({ grid: 0, pos: 'left', range: LY, line: '#111', ticks: leftYMajor, len: 16,
    label: { customValues: leftYMajor, formatter: v => (v === 0 || v === 1) ? String(v) : v.toFixed(1), margin: 18, fontFamily: MONO, fontWeight: 'bold', fontSize: 24, color: '#222' },
    extra: { name: 'F/F{sub|5500}', nameLocation: 'middle', nameGap: 72, nameRotate: 90,
      nameTextStyle: { fontFamily: SERIF, fontSize: 27, color: '#222', lineHeight: 34, rich: { sub: { fontSize: 16, lineHeight: 16, verticalAlign: 'bottom', fontFamily: SERIF, color: '#222' } } } } }),
  axis({ grid: 0, pos: 'left', range: LY, ticks: leftYMinor, len: 9 }),
  axis({ grid: 0, pos: 'right', range: LY, line: '#111', ticks: leftYMajor, len: 16 }),
  axis({ grid: 0, pos: 'right', range: LY, ticks: leftYMinor, len: 9 }),
  // 2018 panel
  axis({ grid: 1, pos: 'left', range: RY, line: '#222', ticks: rightYMajor, len: 19,
    label: { customValues: rightYMajor, formatter: v => String(v), margin: 17, fontFamily: SERIF, fontSize: 28, color: '#222' } }),
  axis({ grid: 1, pos: 'left', range: RY, ticks: rightYMinor, len: 9 }),
  axis({ grid: 1, pos: 'right', range: RY, line: '#7a7a7a', lineWidth: 3, ticks: [0.5, 1], len: 18, tickColor: '#444' }),
  axis({ grid: 1, pos: 'right', range: RY, ticks: rightYMinor, len: 9, tickColor: '#444' })
];

function spectrum(name, data, xi, yi, color, width, opacity, z) {
  return {
    name, type: 'line', data, xAxisIndex: xi, yAxisIndex: yi,
    showSymbol: false, symbol: 'none', silent: true, z,
    itemStyle: { color },
    lineStyle: { color, width, opacity }
  };
}

const option = {
  animation: false,
  backgroundColor: '#ffffff',
  grid: [
    { left: 129, top: 156, width: 815, height: 501 },
    { left: 1094, top: 160, width: 863, height: 493 }
  ],
  xAxis: xAxes,
  yAxis: yAxes,
  legend: [
    {
      data: [
        { name: NAME_KURUCZ, textStyle: { color: '#111' } },
        { name: NAME_MASTAR17, textStyle: { color: '#e2463c' } }
      ],
      orient: 'vertical', left: 357, top: 518, icon: 'none', itemWidth: 0, itemHeight: 10, itemGap: 9,
      selectedMode: false,
      formatter: n => n.replace('Z⊙', 'Z{sub|⊙}'),
      textStyle: { fontFamily: MONO, fontSize: 25.5, lineHeight: 32, rich: { sub: { fontSize: 15, lineHeight: 15, verticalAlign: 'bottom', fontFamily: MONO } } }
    },
    {
      data: [
        { name: NAME_M05, textStyle: { color: '#111' } },
        { name: NAME_MILES, textStyle: { color: '#3434e8' } },
        { name: NAME_MASTAR18, textStyle: { color: '#ee2a2a' } }
      ],
      orient: 'vertical', left: 1410, top: 495, icon: 'none', itemWidth: 0, itemHeight: 10, itemGap: 15,
      selectedMode: false,
      textStyle: { fontFamily: SANS, fontSize: 23, lineHeight: 27 }
    }
  ],
  series: [
    spectrum(NAME_MASTAR17, mastar2017, 0, 0, '#ec3b2c', 1.3, 1, 2),
    spectrum(NAME_KURUCZ, kurucz2017, 0, 0, '#111111', 2, 1, 3),
    spectrum(NAME_MILES, m11Miles, 4, 4, '#3c3cff', 1, 0.75, 2),
    spectrum(NAME_M05, m05, 4, 4, '#000000', 2.6, 1, 3),
    spectrum(NAME_MASTAR18, mastar2018, 4, 4, '#ff1616', 1.6, 1, 4)
  ]
};

const chart = echarts.init(document.getElementById('chart'));
chart.setOption(option);

const c = chart.convertToPixel({ gridIndex: 0 }, ellipseCenter);

chart.setOption({
  graphic: [
    // slide frame
    { type: 'rect', shape: { x: 0, y: 0, width: 1972, height: 10 }, style: { fill: '#000' }, z: 50 },
    { type: 'rect', shape: { x: 0, y: 0, width: 9, height: 757 }, style: { fill: '#000' }, z: 50 },
    // heading
    { type: 'text', x: 528, y: 80, style: { text: yearBefore, font: '50px ' + SLIDE, fill: '#111', align: 'center', verticalAlign: 'middle' }, z: 50 },
    { type: 'text', x: 1487, y: 80, style: { text: yearAfter, font: '50px ' + SLIDE, fill: '#111', align: 'center', verticalAlign: 'middle' }, z: 50 },
    {
      type: 'polygon', z: 49,
      shape: { points: [[688, 55], [1302, 55], [1302, 28], [1361, 85], [1302, 141], [1302, 117], [688, 117]] },
      style: {
        fill: { type: 'linear', x: 0, y: 0, x2: 0, y2: 1, colorStops: [
          { offset: 0, color: '#c3daf3' }, { offset: 0.45, color: '#8dbbea' }, { offset: 1, color: '#4f8bd6' } ] },
        shadowBlur: 6, shadowOffsetY: 3, shadowColor: 'rgba(0,0,0,0.22)'
      }
    },
    { type: 'text', x: 1019, y: 85, style: { text: arrowCaption, font: '51px ' + SLIDE, fill: '#111', align: 'center', verticalAlign: 'middle' }, z: 50 },
    // model annotation on the 2018 panel
    { type: 'text', x: 1348, y: 448, style: { text: modelNote, font: '34px ' + SERIF, fill: '#222', verticalAlign: 'middle', lineHeight: 38,
        rich: { sub: { fontSize: 19, lineHeight: 19, verticalAlign: 'bottom', fontFamily: SERIF, fill: '#222' } } }, z: 50 },
    // stray dashes left of the 2018 axis
    { type: 'line', shape: { x1: 1030, y1: 186, x2: 1030, y2: 228 }, style: { stroke: '#888', lineWidth: 2, lineDash: [5, 4] }, z: 50 },
    { type: 'line', shape: { x1: 1030, y1: 265, x2: 1030, y2: 276 }, style: { stroke: '#888', lineWidth: 2, lineDash: [4, 3] }, z: 50 },
    // highlight ellipse
    {
      type: 'ellipse', x: c[0], y: c[1], rotation: -11 * Math.PI / 180, z: 100,
      shape: { cx: 0, cy: 0, rx: 232, ry: 108 },
      style: { fill: 'none', stroke: '#5583bb', lineWidth: 2, shadowBlur: 4, shadowColor: 'rgba(60,100,160,0.35)' }
    }
  ]
});
</script>
</body>
</html>
